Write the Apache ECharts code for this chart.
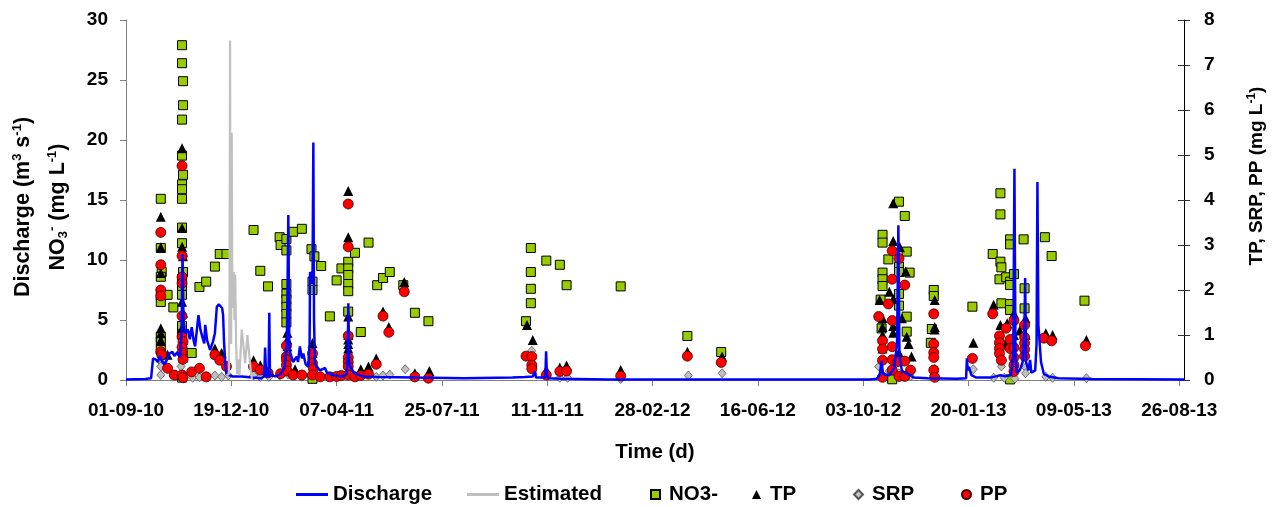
<!DOCTYPE html>
<html>
<head>
<meta charset="utf-8">
<title>Discharge and nutrient concentrations</title>
<script src="https://cdn.jsdelivr.net/npm/echarts@6.0.0/dist/echarts.min.js"></script>
<style>
  html, body { margin: 0; padding: 0; background: #ffffff; }
  #chart { width: 1282px; height: 507px; }
</style>
</head>
<body>
<div id="chart"></div>
<script>
// Day numbers count from 1 Sep 2010 (day 0).
const timeTicks = ['01-09-10', '19-12-10', '07-04-11', '25-07-11', '11-11-11', '28-02-12',
  '16-06-12', '03-10-12', '20-01-13', '09-05-13', '26-08-13'];
const tickStep = 109;   // days between time ticks
const dayMax = 1095;

// Discharge (m3 s-1), [day, value]
const discharge = [
  [0,0.05],[20,0.08],[26,0.15],[27,1.0],[28,1.8],[31,1.7],[33,1.5],[35,2.0],[37,1.6],[40,1.3],
  [43,1.8],[45,2.2],[48,2.36],[50,2.0],[53,2.3],[56,1.9],[57.5,4.0],[58.5,10.5],[59.5,5.0],[61,3.9],
  [64,4.2],[66,3.4],[68,4.4],[70,3.3],[71.5,2.8],[75,5.4],[77,4.2],[79,3.6],[81,3.05],[82,4.6],
  [84,3.3],[87,2.5],[90,3.2],[92,3.9],[94,6.1],[96,6.3],[98,6.4],[99.5,6.0],[100.5,5.4],[101.5,3.1],
  [103,1.1],[104,0.5],[110,0.3],[120,0.3],[130.5,0.2],[140,0.15],[143,0.3],[144,2.7],[145,0.3],
  [147.5,0.3],[148.3,5.6],[149,0.4],[155,0.3],[160,0.5],[164,1.0],[166.5,3.0],[168,13.75],[169,3.0],
  [170,2.25],[173,1.5],[176.7,1.95],[178,1.5],[180,2.8],[182,1.8],[183.5,2.2],[186,1.3],[188.7,1.1],
  [190,3.0],[190.5,9.0],[191.3,8.6],[192.2,9.0],[193,8.0],[193.9,19.8],[194.6,5.0],[195.6,1.4],
  [197.4,1.1],[200.8,0.8],[206,1.0],[208,0.6],[215,0.4],[225,0.3],[228.5,0.5],[229.5,2.0],[230.1,6.4],
  [231,1.5],[232,1.1],[236,0.6],[245,0.3],[260,0.25],[300,0.2],[350,0.15],[400,0.2],[413,0.25],
  [421,0.3],[423,0.4],[423.5,0.7],[424.3,0.2],[434,0.2],[434.8,2.4],[435.6,0.5],[437,0.15],[450,0.1],
  [500,0.05],[770,0.05],[777,0.1],[780,0.4],[782,1.6],[783.5,0.5],[790,0.4],[795,1.0],[798,3.0],
  [799.4,12.9],[800.5,2.0],[803,0.8],[808,0.5],[812,0.4],[815,0.2],[830,0.15],[860,0.1],[869.5,0.15],
  [870.3,1.8],[871.2,0.8],[872.3,1.1],[875,0.4],[880,0.2],[895,0.2],[900,0.3],[905,0.4],[910,0.3],
  [916,0.4],[918.3,2.0],[919.5,17.6],[920.6,2.0],[922,0.6],[925,0.8],[928,1.5],[929.8,4.0],[930.6,8.5],
  [931.5,1.5],[934,0.8],[935.7,1.67],[937,0.6],[941,0.8],[942.4,3.0],[943.3,16.5],[944.3,4.6],[946,4.6],
  [947,1.5],[950,0.5],[955,0.3],[965,0.15],[1000,0.08],[1095,0.05]
];

// Estimated discharge (m3 s-1), [day, value]
const estimated = [
  [104,0.4],[106.5,0.5],[107.2,8],[107.7,28.3],[108.2,6],[108.8,3],[109.4,20.6],[110,8.5],[110.6,6],
  [111.5,9.0],[112.3,5],[113,8.8],[114,3],[115,0.5],[116.2,1.7],[117.5,0.4],[119,3.0],[119.8,4.2],
  [121.4,4.3],[122,2.5],[123.2,1.4],[124.5,2.5],[125.6,3.75],[127.3,3.6],[128.3,1.5],[129.1,0.8],[130.4,0.1]
];

// NO3- (mg L-1), [day, value]
const no3 = [
  [36,15.1],[36,11.0],[37,9.0],[36,8.6],[36,7.0],[36,6.5],[36,3.6],[36,3.2],[36,2.5],[43,7.1],[49,6.05],
  [58,27.9],[58,26.4],[59,24.9],[59,22.9],[58,21.7],[58,18.7],[59,17.1],[58,16.3],[58,15.9],[58,15.1],
  [58,12.7],[58,11.4],[59,9.0],[58,8.4],[58,7.8],[58,7.1],[58,4.5],[58,3.8],[58,0.2],
  [68,2.25],[76,7.75],[83,8.2],[92,9.45],[97,10.5],[104,10.5],
  [132,12.5],[139,9.1],[147,7.8],
  [159,11.9],[160,11.25],[166,11.75],[166,10.8],[173,12.35],[182,12.6],[166,8.0],[166,7.2],[166,6.7],
  [166,6.1],[166,5.5],[166,4.8],
  [192,10.9],[195,10.3],[202,9.5],[193,8.2],[193,7.5],[193,0.1],
  [211,5.3],[218,8.3],[223,9.3],[230,9.85],[230,9.3],[230,8.75],[230,8.0],[230,7.4],[230,5.7],
  [237,10.6],[251,11.45],[243,4.0],
  [260,7.9],[266,8.5],[273,9.0],[287,7.9],[299,5.6],[313,4.9],
  [414,4.9],[419,11.0],[419,9.0],[419,7.6],[419,6.4],[435,9.95],[449,9.6],[456,7.9],[512,7.8],
  [581,3.67],[616,2.33],
  [781,6.7],[782,4.3],[783,12.1],[783,11.45],[783,8.95],[783,8.4],[783,7.83],[789,10.05],[800,14.86],
  [806,13.67],[808,10.7],[800,9.45],[811,8.95],[800,9.0],[800,7.17],[800,6.2],[808,5.28],[808,4.03],
  [793,0.06],[836,7.5],[836,7.0],[834,4.25],[833,3.1],
  [876,6.11],[897,10.5],[905,15.56],[905,13.8],[915,11.72],[915,11.3],[929,11.72],[951,11.9],
  [958,10.33],[905,9.86],[906,9.39],[904,8.39],[911,8.56],[915,8.2],[915,7.92],[919,8.83],[930,7.64],
  [906,6.39],[915,6.33],[915,5.83],[930,5.97],[992,6.61],[915,0.05]
];

// TP (mg L-1), [day, value]
const tp = [
  [36,3.63],[36,2.95],[36,2.38],[36,1.15],[36,1.04],[36,0.89],[37,0.6],[43,0.56],
  [58,5.15],[58,3.38],[58,2.96],[59,2.85],[59,2.75],[58,1.74],[59,1.5],[58,1.15],[58,1.04],[59,0.89],
  [58,0.7],[59,0.5],
  [92,0.7],[99,0.6],[132,0.44],[139,0.33],[148,0.22],
  [167,1.05],[167,0.9],[167,0.75],[166,0.6],[175,0.24],
  [193,0.82],[193,0.6],
  [230,4.2],[230,3.17],[230,1.41],[230,1.0],[230,0.9],[230,0.8],[230,0.7],[243,0.24],[251,0.3],
  [259,0.48],[266,1.52],[272,1.18],[288,2.18],[299,0.15],[314,0.2],
  [415,1.22],[421,0.89],[435,0.22],[449,0.28],[456,0.32],[512,0.22],[581,0.63],[617,0.52],
  [794,3.93],[794,3.09],[801,2.95],[807,2.41],[790,1.96],[780,1.78],[794,1.8],[783,1.37],[794,1.2],
  [803,1.37],[783,1.18],[794,1.05],[808,0.96],[783,1.0],[810,0.8],[813,0.52],[783,0.7],[800,0.6],
  [837,1.78],[837,1.18],[837,1.12],
  [877,0.83],[898,1.67],[905,1.22],[912,1.26],[919,1.48],[931,1.37],[919,1.0],[931,1.0],[910,0.8],
  [925,1.1],[952,1.04],[959,1.0],[994,0.89]
];

// SRP (mg L-1), [day, value]
const srp = [
  [36,0.41],[36,0.3],[36,0.11],[49,0.11],[57,0.3],[59,0.08],[69,0.05],[76,0.06],[92,0.1],[99,0.07],
  [106,0.1],[132,0.1],[139,0.07],[148,0.07],[159,0.1],[168,0.12],[182,0.07],[193,0.1],[230,0.12],
  [237,0.07],[259,0.07],[266,0.1],[273,0.12],[289,0.24],[299,0.05],[313,0.03],
  [420,0.65],[421,0.3],[449,0.05],[457,0.05],[512,0.02],[582,0.1],[617,0.15],
  [779,0.3],[782,0.1],[790,0.2],[800,0.15],[807,0.1],[812,0.08],[837,0.25],[836,0.1],
  [877,0.24],[898,0.05],[906,0.3],[909,0.05],[920,0.03],[931,0.28],[931,0.15],[952,0.07],[959,0.05],
  [994,0.04]
];

// PP (mg L-1), [day, value]
const pp = [
  [36,3.28],[36,2.56],[36,2.0],[36,1.87],[36,0.63],[37,0.56],[43,0.26],[50,0.11],
  [58,4.76],[58,2.76],[58,2.29],[58,2.15],[58,1.42],[58,0.96],[59,0.85],[58,0.73],[58,0.6],[59,0.46],
  [58,0.11],[59,0.05],
  [68,0.18],[76,0.26],[83,0.07],[92,0.56],[97,0.44],[104,0.3],
  [132,0.3],[139,0.22],[147,0.16],
  [160,0.14],[166,0.76],[166,0.52],[166,0.45],[166,0.33],[167,0.2],[173,0.11],[182,0.11],
  [193,0.59],[193,0.37],[194,0.25],[193,0.11],
  [201,0.07],[211,0.07],[218,0.08],[223,0.1],
  [230,3.91],[230,2.96],[230,0.98],[230,0.5],[230,0.4],[230,0.3],[230,0.11],[237,0.07],[243,0.1],[251,0.13],
  [259,0.35],[266,1.42],[272,1.06],[288,1.96],[299,0.07],[313,0.04],
  [414,0.53],[420,0.52],[420,0.33],[420,0.25],[435,0.11],[449,0.19],[456,0.2],[512,0.09],[581,0.53],[616,0.39],
  [793,2.87],[800,2.7],[793,2.24],[806,2.11],[789,1.69],[779,1.41],[793,1.32],[783,0.87],[783,0.69],
  [793,0.74],[783,0.44],[793,0.45],[799,0.41],[806,0.42],[812,0.22],[793,0.22],[783,0.06],[800,0.08],[806,0.08],
  [836,1.47],[836,0.8],[836,0.61],[836,0.5],[836,0.22],[837,0.06],
  [876,0.48],[897,1.47],[919,1.32],[930,1.22],[911,1.15],[904,0.98],[904,0.83],[904,0.7],[904,0.59],
  [906,0.44],[915,0.9],[915,0.7],[919,0.72],[919,0.5],[919,0.33],[919,0.19],[930,0.95],[930,0.82],
  [930,0.68],[930,0.53],[950,0.93],[958,0.87],[993,0.76]
];

const FONT = '"Liberation Sans", Arial, sans-serif';
const FS = 19;

const baseText = { fontFamily: FONT, fontWeight: 'bold', fontSize: FS, color: '#000' };
const bigText = { fontFamily: FONT, fontWeight: 'bold', fontSize: 20.5, color: '#000' };

function titleRich(size, lineH) {
  const sub = Math.round(size * 0.62);
  return {
    t:   { fontFamily: FONT, fontWeight: 'bold', fontSize: size, lineHeight: lineH, color: '#000' },
    sup: { fontFamily: FONT, fontWeight: 'bold', fontSize: sub, lineHeight: sub, padding: [0, 0, Math.round(size * 0.58), 0], color: '#000' },
    sub: { fontFamily: FONT, fontWeight: 'bold', fontSize: sub, lineHeight: sub, padding: [Math.round(size * 0.48), 0, 0, 0], color: '#000' }
  };
}

function legendAt(name, left, isLine) {
  return {
    data: [name],
    left: left,
    top: 484,
    padding: 0,
    itemWidth: isLine ? 32 : 9,
    itemHeight: isLine ? 3 : 9,
    icon: isLine ? 'rect' : undefined,
    selectedMode: false,
    textStyle: Object.assign({}, bigText, { padding: [0, 0, 0, isLine ? 0 : 4] })
  };
}

const chart = echarts.init(document.getElementById('chart'), null, { renderer: 'canvas' });

chart.setOption({
  backgroundColor: '#ffffff',
  animation: false,
  grid: { left: 126, right: 98, top: 20, bottom: 127, outerBoundsMode: 'none', containLabel: false },
  legend: [
    legendAt('Discharge', 296, true),
    legendAt('Estimated', 467, true),
    legendAt('NO3-', 650, false),
    legendAt('TP', 752, false),
    legendAt('SRP', 853, false),
    legendAt('PP', 961, false)
  ],
  xAxis: {
    type: 'value',
    min: 0,
    max: dayMax,
    interval: tickStep,
    name: 'Time (d)',
    nameLocation: 'middle',
    nameGap: 62,
    nameTextStyle: bigText,
    splitLine: { show: false },
    axisLine: { show: true, lineStyle: { color: '#808080', width: 1 } },
    axisTick: { show: true, length: 6, lineStyle: { color: '#808080' } },
    axisLabel: Object.assign({}, baseText, {
      margin: 21,
      showMaxLabel: false,
      hideOverlap: false,
      formatter: function (v) {
        const i = Math.round(v / tickStep);
        return (Math.abs(v - i * tickStep) < 0.01 && timeTicks[i]) ? timeTicks[i] : '';
      }
    })
  },
  yAxis: [
    {
      type: 'value',
      position: 'left',
      min: 0, max: 30, interval: 5,
      name: '{t|Discharge (m}{sup|3}{t| s}{sup|-1}{t|)}\n{t|NO}{sub|3}{sup|-}{t| (mg L}{sup|-1}{t|)}',
      nameLocation: 'middle',
      nameGap: 50,
      nameTextStyle: { rich: titleRich(21.5, 35), padding: [0, 14, 0, 0] },
      splitLine: { show: false },
      axisLine: { show: true, lineStyle: { color: '#808080', width: 1 } },
      axisTick: { show: true, length: 6, lineStyle: { color: '#808080' } },
      axisLabel: Object.assign({}, baseText, { margin: 18 })
    },
    {
      type: 'value',
      position: 'right',
      min: 0, max: 8, interval: 1,
      name: '{t|TP, SRP, PP (mg L}{sup|-1}{t|)}',
      nameLocation: 'middle',
      nameRotate: 90,
      nameGap: 58,
      nameTextStyle: { rich: titleRich(19, 30), padding: [0, 0, 0, 48] },
      splitLine: { show: false },
      axisLine: { show: true, lineStyle: { color: '#000', width: 1 } },
      axisTick: { show: true, length: 6, lineStyle: { color: '#333' } },
      axisLabel: Object.assign({}, baseText, { margin: 20 })
    },
    {
      // inner half of the crossing ticks on the right-hand axis
      type: 'value',
      position: 'right',
      min: 0, max: 8, interval: 1,
      splitLine: { show: false },
      axisLine: { show: false },
      axisTick: { show: true, inside: true, length: 6, lineStyle: { color: '#333' } },
      axisLabel: { show: false }
    }
  ],
  series: [
    {
      name: 'Discharge', type: 'line', yAxisIndex: 0, data: discharge,
      showSymbol: false, color: '#0000ff',
      lineStyle: { color: '#0000ff', width: 2.5 }
    },
    {
      name: 'Estimated', type: 'line', yAxisIndex: 0, data: estimated,
      showSymbol: false, color: '#c0c0c0',
      lineStyle: { color: '#c0c0c0', width: 2.2 }
    },
    {
      name: 'NO3-', type: 'scatter', yAxisIndex: 0, data: no3,
      symbol: 'rect', symbolSize: 9, color: '#99cc00',
      itemStyle: { color: '#99cc00', borderColor: '#000', borderWidth: 1, opacity: 1 }
    },
    {
      name: 'TP', type: 'scatter', yAxisIndex: 1, data: tp,
      symbol: 'triangle', symbolSize: 10, color: '#000',
      itemStyle: { color: '#000', opacity: 1 }
    },
    {
      name: 'SRP', type: 'scatter', yAxisIndex: 1, data: srp,
      symbol: 'diamond', symbolSize: [8, 9], color: '#c0c0c0',
      itemStyle: { color: '#c0c0c0', borderColor: '#555', borderWidth: 0.8, opacity: 1 }
    },
    {
      name: 'PP', type: 'scatter', yAxisIndex: 1, data: pp,
      symbol: 'circle', symbolSize: 10, color: '#ff0000',
      itemStyle: { color: '#ff0000', borderColor: '#400000', borderWidth: 0.8, opacity: 1 }
    }
  ]
});
</script>
</body>
</html>
